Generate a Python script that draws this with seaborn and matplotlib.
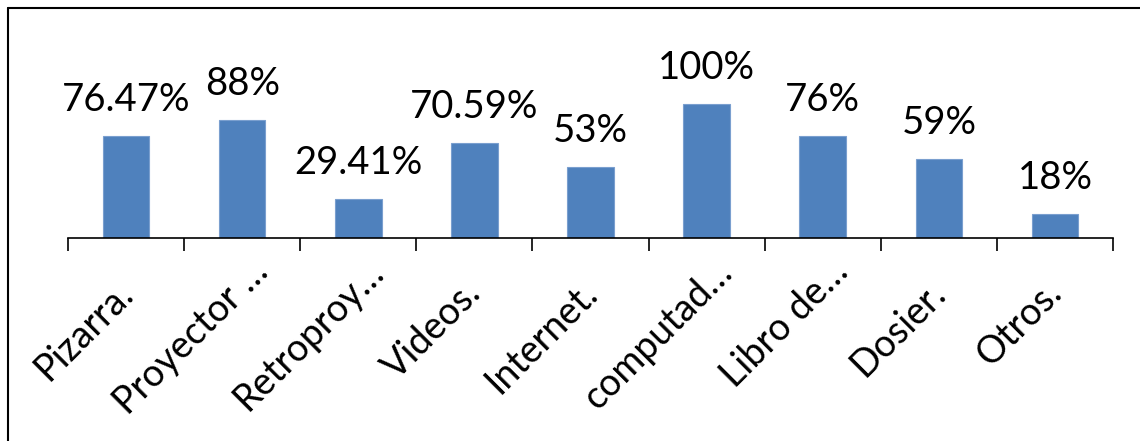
import matplotlib
matplotlib.use("Agg")
import matplotlib.pyplot as plt
import matplotlib.transforms as mtransforms
import seaborn as sns
import pandas as pd

categories = ["Pizarra.", "Proyector …", "Retroproy…", "Videos.", "Internet.",
              "computad…", "Libro de…", "Dosier.", "Otros."]
values = [0.7647, 0.88, 0.2941, 0.7059, 0.53, 1.00, 0.76, 0.59, 0.18]
value_labels = ["76.47%", "88%", "29.41%", "70.59%", "53%", "100%", "76%", "59%", "18%"]

sns.set_theme(style="white")
plt.rcParams["font.family"] = ["Lato", "DejaVu Sans"]

df = pd.DataFrame({"cat": categories, "val": values})

fig = plt.figure(figsize=(11.4, 4.41), dpi=100)
ax = fig.add_axes([68 / 1140, 1 - 238 / 441, (1113 - 68) / 1140, 200 / 441])

sns.barplot(data=df, x="cat", y="val", ax=ax, color="#4F81BD", saturation=1,
            width=0.4, edgecolor="#7A9FCF", linewidth=0.8)

ax.set_ylim(0, 200 / 134)
ax.set_xlim(-0.5, len(categories) - 0.5)
ax.set_xlabel("")
ax.set_ylabel("")
ax.set_yticks([])
for s in ["top", "right", "left"]:
    ax.spines[s].set_visible(False)
ax.spines["bottom"].set_color("#000000")
ax.spines["bottom"].set_linewidth(1.2)

# tick marks at category boundaries
ax.set_xticks([i - 0.5 for i in range(len(categories) + 1)], minor=False)
ax.set_xticklabels([""] * (len(categories) + 1))
ax.tick_params(axis="x", which="major", direction="out", length=9.5, width=1.2,
               color="#000000", bottom=True)
ax.set_xticks(range(len(categories)), minor=True)
ax.set_xticklabels(categories, minor=True, rotation=45, ha="right", va="baseline",
                   rotation_mode="anchor", fontsize=27, color="#000000")
ax.tick_params(axis="x", which="minor", length=0, pad=0)

for lab in ax.get_xticklabels(minor=True):
    txt = lab.get_text()
    if txt.endswith("…"):
        dx, dy = 28, 36
    else:
        dx, dy = 9, 57
    off = mtransforms.ScaledTranslation(dx / 100, -dy / 100, fig.dpi_scale_trans)
    lab.set_transform(lab.get_transform() + off)

for i, (v, t) in enumerate(zip(values, value_labels)):
    ax.annotate(t, (i, v), xytext=(0, 18), textcoords="offset points",
                ha="center", va="baseline", fontsize=27.5, color="#000000",
                annotation_clip=False)

# outer chart border (left and top visible, cut off on right/bottom)
fig.add_artist(plt.Line2D([8 / 1140, 8 / 1140], [0, 1 - 8 / 441],
                          transform=fig.transFigure, color="#000000", lw=1.5))
fig.add_artist(plt.Line2D([8 / 1140, 1], [1 - 8 / 441, 1 - 8 / 441],
                          transform=fig.transFigure, color="#000000", lw=1.5))

fig.savefig("out.png", dpi=100)
